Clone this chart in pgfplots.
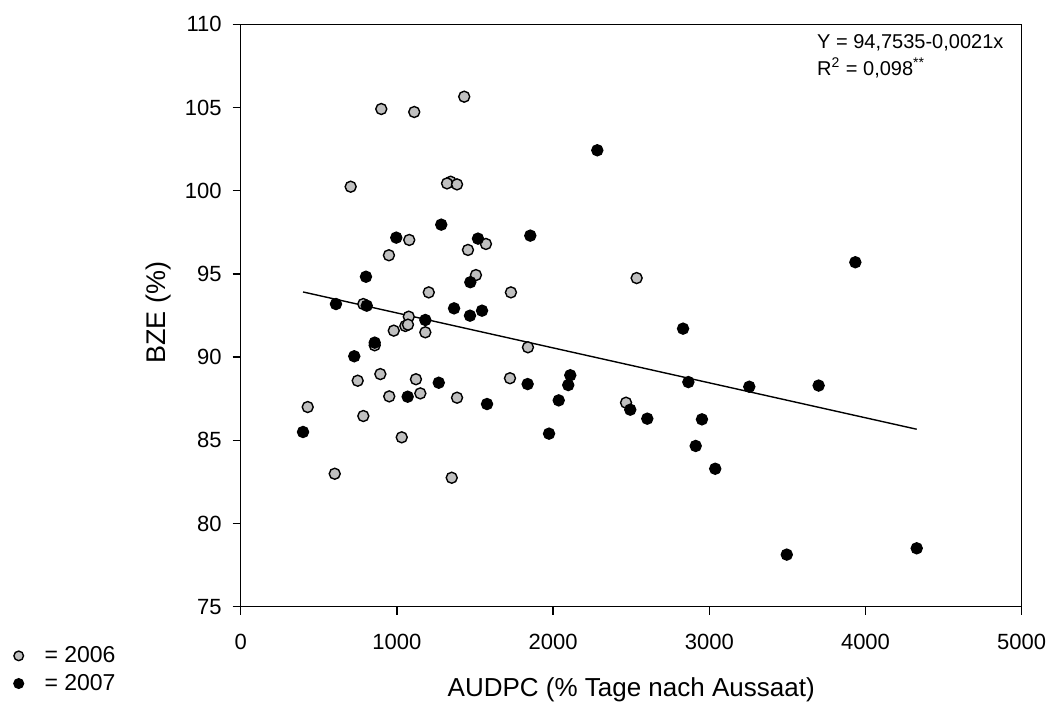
\documentclass[border=0pt]{standalone}
\usepackage{pgfplots}
\pgfplotsset{compat=1.18}
\usepackage{fontspec}
\setmainfont{Liberation Sans}
\definecolor{gray06}{HTML}{C0C0C0}
\begin{document}
\begin{tikzpicture}
\useasboundingbox (-120.35pt,-47.65pt) rectangle (404.15pt,303.35pt);
\begin{axis}[
  at={(0,0)}, anchor=south west,
  scale only axis,
  width=390.5pt, height=291.2pt,
  xmin=0, xmax=5000, ymin=75, ymax=110,
  xtick={0,1000,2000,3000,4000,5000},
  ytick={75,80,85,90,95,100,105,110},
  axis line style={line width=0.7pt},
  every tick/.style={line width=0.7pt, black},
  tick align=outside,
  xtick pos=bottom, ytick pos=left,
  major tick length=4pt,
  /pgf/number format/assume math mode=true,
  /pgf/number format/1000 sep={},
  tick label style={font=\fontsize{11}{13}\selectfont},
  xticklabel style={yshift=-6pt},
  yticklabel style={xshift=-2pt},
  xlabel={AUDPC (\% Tage nach Aussaat)},
  ylabel={BZE (\%)},
  xlabel style={font=\fontsize{13}{15}\selectfont, at={(axis description cs:0.5,-0.155)}, anchor=base},
  ylabel style={font=\fontsize{13.5}{15}\selectfont, at={(axis description cs:-0.0969,0.505)}, anchor=base},
  legend style={at={(axis description cs:-0.2909,-0.0605)}, anchor=north west,
    draw=none, fill=none, inner sep=0pt,
    font=\fontsize{11.5}{13}\selectfont, row sep=0.3pt,
    cells={anchor=west}},
  legend image post style={mark size=2.4pt},
  clip=false,
]
\addplot[only marks, mark=*, mark size=2.75pt, mark options={fill=gray06, draw=black, line width=0.7pt}] coordinates {
(900,104.91) (1111,104.73) (1431,105.65) (704,100.24) (1344,100.54) (1321,100.44)
(1385,100.38) (1079,97.04) (1570,96.80) (949,96.12) (1455,96.44) (1506,94.93)
(1204,93.89) (1730,93.89) (785,93.19) (1076,92.43) (1054,91.87) (1071,91.95)
(980,91.59) (1182,91.49) (858,90.71) (1839,90.59) (894,88.98) (749,88.58)
(1122,88.67) (1724,88.73) (951,87.64) (1150,87.82) (1385,87.56) (429,87.00)
(785,86.46) (1031,85.18) (602,82.99) (1351,82.75) (2535,94.75) (2467,87.26)
};
\addlegendentry{\hspace{8.5pt}= 2006}
\addplot[only marks, mark=*, mark size=2.75pt, mark options={fill=black, draw=black, line width=0.7pt}] coordinates {
(1284,97.96) (996,97.18) (1519,97.12) (1854,97.30) (802,94.83) (1470,94.50)
(610,93.19) (807,93.09) (1366,92.93) (1468,92.49) (1545,92.79) (1182,92.23)
(858,90.87) (727,90.05) (1268,88.46) (1837,88.38) (1069,87.62) (1577,87.18)
(399,85.50) (2283,102.43) (2832,91.71) (2110,88.91) (2097,88.32) (2036,87.40)
(1974,85.40) (2494,86.84) (2603,86.30) (2866,88.50) (3256,88.22) (3700,88.29)
(2953,86.26) (2913,84.66) (3038,83.29) (3496,78.13) (3935,95.70) (4328,78.51)
};
\addlegendentry{\hspace{8.5pt}= 2007}
\addplot[black, line width=0.7pt, no marks, forget plot] coordinates {(399,93.9156) (4328,85.6647)};
\node[anchor=base west, inner sep=0pt, font=\fontsize{10}{12}\selectfont] at (axis cs:3688,108.52) {Y = 94,7535-0,0021x};
\node[anchor=base west, inner sep=0pt, font=\fontsize{10}{12}\selectfont] at (axis cs:3688,106.95) {R\textsuperscript{2} = 0,098\textsuperscript{**}};
\end{axis}
\end{tikzpicture}
\end{document}
